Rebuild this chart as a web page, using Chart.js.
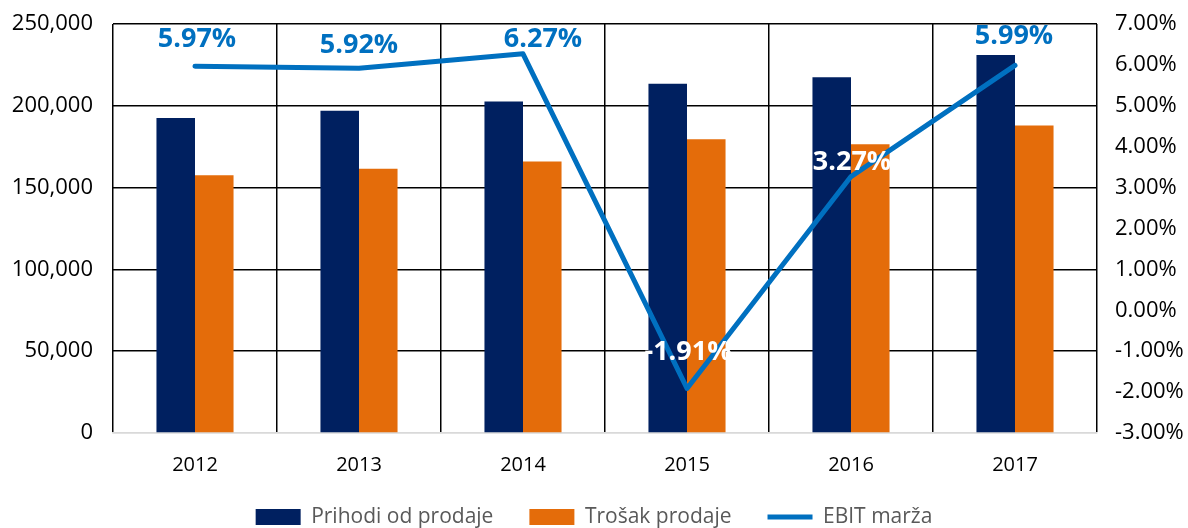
<!DOCTYPE html>
<html><head><meta charset="utf-8">
<script src="https://cdn.jsdelivr.net/npm/chart.js@4"></script>
<style>html,body{margin:0;padding:0;background:#fff}#wrap{width:1188px;height:528px}</style>
</head><body><div id="wrap"><canvas id="c" width="1188" height="528"></canvas></div>
<script>
const categories = ['2012','2013','2014','2015','2016','2017'];
const prihodi = [192500, 197000, 202700, 213500, 217500, 231000];
const trosak = [157500, 161500, 166000, 179500, 176500, 188000];
const ebit = [5.97, 5.92, 6.27, -1.91, 3.27, 5.99];
const ebitLabels = ['5.97%','5.92%','6.27%','-1.91%','3.27%','5.99%'];

const labelPlugin = {
  id: 'ebitLabels',
  afterDatasetsDraw(chart) {
    const meta = chart.getDatasetMeta(2);
    const ctx = chart.ctx;
    const dx = [2, 0, 20, 1, 1, -1];
    const dy = [-27, -23, -15, -36, -14, -29];
    const colors = ['#0070C0','#0070C0','#0070C0','#ffffff','#ffffff','#0070C0'];
    ctx.save();
    ctx.font = 'bold 27px "Open Sans"';
    ctx.textAlign = 'center';
    ctx.textBaseline = 'middle';
    meta.data.forEach((pt, i) => {
      ctx.fillStyle = colors[i];
      ctx.fillText(ebitLabels[i], pt.x + dx[i], pt.y + dy[i]);
    });
    ctx.restore();
  }
};

new Chart(document.getElementById('c'), {
  data: {
    labels: categories,
    datasets: [
      {type:'bar', label:'Prihodi od prodaje', data: prihodi, backgroundColor:'#002060', yAxisID:'y', order:2,
       categoryPercentage:0.47, barPercentage:1.0, pointStyle:'rect'},
      {type:'bar', label:'Trošak prodaje', data: trosak, backgroundColor:'#E46C0A', yAxisID:'y', order:2,
       categoryPercentage:0.47, barPercentage:1.0, pointStyle:'rect'},
      {type:'line', label:'EBIT marža', data: ebit, borderColor:'#0070C0', backgroundColor:'#0070C0', borderWidth:5,
       pointRadius:0, yAxisID:'y1', order:1, borderCapStyle:'round', borderJoinStyle:'round', pointStyle:'line', tension:0}
    ]
  },
  options: {
    responsive:false, animation:false, devicePixelRatio:1,
    layout:{padding:{top:24, left:0, right:0, bottom:-9.5}},
    plugins:{
      tooltip:{enabled:false},
      legend:{position:'bottom', labels:{usePointStyle:true, pointStyleWidth:45, boxHeight:16, padding:36,
        sort:(a,b)=>a.datasetIndex-b.datasetIndex,
        color:'#595959', font:{family:'"Open Sans"', size:21}}}
    },
    scales:{
      x:{grid:{offset:true, color:'#000', lineWidth:1.5, drawTicks:false},
         border:{color:'#d9d9d9', width:1.5},
         ticks:{color:'#000', padding:20, font:{family:'"Open Sans"', size:20}},
         afterFit(s){s.height = s.height - 26.5; s._computeLabelArea = () => undefined;}},
      y:{position:'left', min:0, max:250000,
         ticks:{stepSize:50000, color:'#000', padding:20, font:{family:'"Open Sans"', size:22},
           callback:v=>v.toLocaleString('en-US')},
         grid:{color:c=>c.tick && c.tick.value===0 ? '#d9d9d9' : '#000', lineWidth:1.5, drawTicks:false},
         border:{display:false},
         afterFit(s){s.width=113; s.paddingTop=0; s.paddingBottom=0;}},
      y1:{position:'right', min:-3, max:7,
         ticks:{stepSize:1, color:'#000', padding:18, font:{family:'"Open Sans"', size:22},
           callback:v=>v.toFixed(2)+'%'},
         grid:{display:false, drawTicks:false}, border:{display:false},
         afterFit(s){s.width=91; s.paddingTop=0; s.paddingBottom=0;}}
    }
  },
  plugins:[labelPlugin]
});
</script></body></html>
